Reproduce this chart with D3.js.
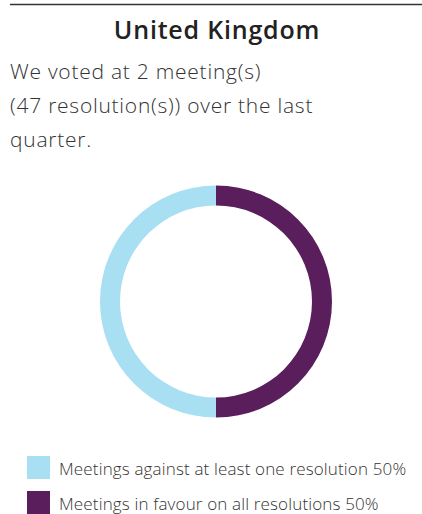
<!DOCTYPE html>
<meta charset="utf-8">
<script src="https://d3js.org/d3.v7.min.js"></script>
<style>
body { margin: 0; background: #fff; }
</style>
<body>
<div id="chart"></div>
<script>
// data
var title = "United Kingdom";
var introLines = ["We voted at 2 meeting(s)", "(47 resolution(s)) over the last", "quarter."];
var categories = ["Meetings against at least one resolution", "Meetings in favour on all resolutions"];
var values = [50, 50];
var colors = ["#a8dff3", "#5a1e5c"];

var width = 422, height = 514;
var font = "'Open Sans', sans-serif";

var svg = d3.select("#chart").append("svg")
    .attr("width", width)
    .attr("height", height);

// top rule
svg.append("line")
    .attr("x1", 10).attr("x2", width)
    .attr("y1", 4.5).attr("y2", 4.5)
    .attr("stroke", "#333").attr("stroke-width", 1.5);

svg.append("text")
    .attr("x", 217).attr("y", 39)
    .attr("text-anchor", "middle")
    .attr("font-family", font)
    .attr("font-weight", 600)
    .attr("font-size", 25)
    .attr("letter-spacing", 0.8)
    .attr("fill", "#222")
    .text(title);

svg.selectAll(".intro")
    .data(introLines)
    .enter().append("text")
    .attr("class", "intro")
    .attr("x", 10)
    .attr("y", function(d, i) { return 79 + i * 34; })
    .attr("font-family", font)
    .attr("font-weight", 300)
    .attr("font-size", 21)
    .attr("letter-spacing", 0.75)
    .attr("fill", "#333")
    .text(function(d) { return d; });

// donut
var color = d3.scaleOrdinal().domain(categories).range(colors);

// clockwise from top: purple on the right, blue on the left
var pie = d3.pie().sort(null).value(function(d) { return d.value; });
var data = categories.map(function(c, i) { return { key: c, value: values[i] }; });
var arcs = pie(data.slice().reverse());

var arc = d3.arc().innerRadius(96).outerRadius(116);

var g = svg.append("g").attr("transform", "translate(216,301.5)");
g.selectAll("path")
    .data(arcs)
    .enter().append("path")
    .attr("d", arc)
    .attr("fill", function(d) { return color(d.data.key); });

// legend
var legend = svg.selectAll(".legend")
    .data(data)
    .enter().append("g")
    .attr("class", "legend")
    .attr("transform", function(d, i) { return "translate(27," + (456 + i * 35) + ")"; });

legend.append("rect")
    .attr("width", 23).attr("height", 23)
    .attr("fill", function(d) { return color(d.key); });

legend.append("text")
    .attr("x", 32).attr("y", 19)
    .attr("font-family", font)
    .attr("font-weight", 300)
    .attr("font-size", 17)
    .attr("letter-spacing", 0.15)
    .attr("fill", "#333")
    .text(function(d) { return d.key + " " + d.value + "%"; });
</script>
</body>
